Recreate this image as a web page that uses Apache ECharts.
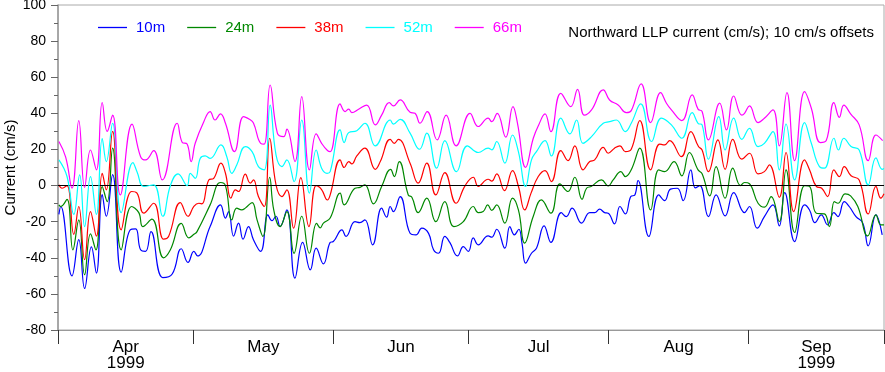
<!DOCTYPE html>
<html>
<head>
<meta charset="utf-8">
<script src="https://cdn.jsdelivr.net/npm/echarts@6/dist/echarts.min.js"></script>
<style>html,body{margin:0;padding:0;background:#fff}#c{width:885px;height:372px}</style>
</head>
<body>
<div id="c"></div>
<script>
// Days since 1999-04-01 ; value in cm/s (offsets already included as plotted)
const seriesNames = ['10m', '24m', '38m', '52m', '66m'];
const seriesColors = ['#0000ff', '#008800', '#ff0000', '#00ffff', '#ff00ff'];
const monthTickDays = [0, 30, 61, 91, 122, 153, 183];
const monthLabelDays = [15, 45.5, 76, 106.5, 137.5, 168];
const monthLabels = ['Apr\n1999', 'May', 'Jun', 'Jul', 'Aug', 'Sep\n1999'];
const titleText = 'Northward LLP current (cm/s); 10 cm/s offsets';

const s10m = [
[0.2,-16],[0.6,-11.6],[3.1,-50],[4.6,-30],[5.9,-57],[7.4,-34],[8.5,-48.5],[9.8,-5],[10.7,-17],[12.1,6],[14.0,-48],[16.0,-24.5],[17.2,-24],[18.3,-35.6],[19.4,-36.5],[20.6,-25.5],[23.2,-51],[25.3,-49],[27.3,-35],[28.8,-42.6],
[30.1,-36.5],[30.9,-39],[33.7,-22.7],[36.0,-10.7],[37.1,-18],[37.8,-14.4],[38.9,-28],[40.0,-20.8],[41.0,-29.7],[42.2,-22.7],[43.3,-30],[44.9,-36.5],[46.5,-16.2],[47.4,-19.5],[48.3,-17],[49.2,-22.7],[50.7,-13.5],[52.5,-51.3],[54.2,-31.5],[55.9,-46.7],[57.2,-34.7],[58.8,-43.4],
[60.3,-31.5],[61.0,-31],[62.9,-24.5],[63.8,-28.2],[65.8,-20],[66.9,-20.5],[68.0,-19],[69.7,-32.8],[71.7,-12.5],[72.8,-17.5],[73.6,-11.6],[74.3,-14.4],[75.8,-6.1],[78.0,-26.4],[79.3,-27.3],[80.6,-23.6],[82.1,-26.5],[83.2,-35.6],[84.3,-37.5],[85.7,-28.2],[86.8,-31.5],[88.5,-39],[89.8,-33.8],
[90.9,-36.5],[92.0,-29],[93.1,-32.8],[95.3,-27.9],[96.1,-28.6],[97.2,-24.2],[99.0,-34.7],[100.1,-22.7],[101.1,-27.3],[102.1,-24.2],[102.8,-32],[103.6,-43],[104.9,-37.5],[106.0,-34.7],[107.7,-22.3],[109.2,-31.5],[111.5,-15],[112.6,-17.2],[113.9,-12.5],[116.0,-20.8],[117.8,-15],[118.9,-15],[120.0,-13.1],
[121.1,-15],[121.9,-15.3],[123.3,-21.2],[124.5,-11.6],[125.7,-15.7],[126.9,-6.1],[127.8,-5.2],[128.5,2.8],[130.9,-28.2],[133.1,-5.2],[134.4,-8.3],[135.7,-2],[137.2,-1.5],[138.5,-8.3],[140.2,8.7],[141.2,-1.3],[142.2,0],[144.1,-17.2],[145.8,-5.2],[147.8,-16.8],[149.7,-3.9],
[152.1,-15],[153.2,-11.6],[154.9,-23.6],[156.5,-17.2],[158.4,-10.7],[159.8,-22.3],[161.0,-3.9],[163.2,-31],[165.4,-10.7],[166.5,-13.5],[167.7,-20.5],[169.1,-16.2],[170.5,-21.8],[171.9,-15],[172.8,-17.2],[174.2,-8.9],[175.3,-11.6],[176.8,-17.2],[178.3,-20.8],[179.5,-33.4],[181.2,-16.2],[182.6,-27.3]
];
const s24m = [
[0.2,-10.7],[0.6,-11.6],[2.0,-7.6],[3.3,-35.6],[4.6,-19],[5.9,-49.4],[7.2,-26.8],[8.4,-35.6],[9.8,-0.6],[10.9,-8.9],[12.1,20.7],[14.0,-35.6],[16.3,-11.6],[17.9,-15],[18.8,-22.7],[20.8,-18.6],[23.4,-40],[24.9,-35.6],[27.3,-21],[29.0,-29],
[30.1,-27],[30.8,-25.5],[33.7,-10.7],[36.0,1.7],[37.1,0],[38.5,-19],[39.6,-12.5],[40.7,-13.5],[41.5,-12.5],[43.0,-9.4],[44.1,-19],[45.4,-28.2],[46.9,4.6],[47.8,-13.5],[49.2,-22.7],[50.7,-14.4],[52.3,-37.5],[54.0,-17],[55.7,-37.5],[57.3,-21],[58.1,-23.4],[58.8,-20.8],
[60.3,-18],[62.5,-4.2],[63.4,-10.7],[65.8,-1.5],[66.9,-1],[68.0,0.4],[69.9,-10.1],[71.7,-0.5],[73.7,9],[74.5,5],[75.6,13.3],[77.6,-5.2],[78.4,-6.5],[79.8,-15],[81.7,-7],[83.7,-20],[85.7,-8.9],[87.7,-22.7],[89.8,-20],
[92.0,-11.6],[93.1,-15],[94.2,-14.4],[95.2,-10.7],[96.1,-13.8],[97.2,-10.7],[99.0,-20.8],[100.7,-7],[102.0,-13.5],[103.4,-31.9],[105.3,-17],[107.1,-7.9],[109.2,-15.3],[111.2,0.9],[113.0,-3.3],[114.5,4.6],[116.1,-7.6],[117.1,-1.5],[118.2,-0.4],[120.4,3.1],
[121.9,-0.2],[123.0,3.1],[124.7,7.7],[125.7,5],[127.0,8.7],[128.9,20.7],[131.3,-13.5],[133.1,8.7],[134.4,7.7],[136.5,13.3],[138.2,5.4],[139.9,18.3],[141.8,8.7],[142.7,6.5],[144.4,-5.7],[145.8,10.5],[147.8,-7],[149.5,9.6],[151.2,0],
[152.1,1.7],[153.2,1],[155.1,-9.8],[156.5,-12],[158.0,-6.1],[159.8,-19.9],[161.3,8.7],[163.2,-26],[165.4,0],[166.5,-0.4],[168.0,-15.3],[169.8,-15.7],[170.9,-22.7],[172.0,-8.9],[172.8,-9.8],[174.4,-4.6],[175.6,-5.7],[177.2,-11.6],[179.4,-27.9],[181.2,-16.2],[182.3,-21.8],[183,-21.8]
];
const s38m = [
[0.2,0.4],[0.9,-1.5],[2.0,0],[3.5,-27],[4.6,-11.6],[5.9,-41],[7.2,-14.4],[8.5,-28],[9.8,6.8],[10.7,-2.4],[12.1,30],[14.0,-24.5],[16.3,-3.3],[17.5,-4.2],[19.0,-15.3],[21.2,-9.8],[23.4,-29.7],[24.5,-28.2],[27.1,-9.4],[28.8,-17],
[30.1,-11.5],[31.2,-9.8],[31.9,-10.1],[33.4,3.1],[34.5,4],[36.1,12.4],[37.1,6.8],[38.3,-7],[39.3,-2.4],[40.0,-3.3],[41.5,6.3],[42.6,1.3],[43.3,3.1],[44.4,-6.1],[45.7,-11.6],[46.9,26.2],[48.3,0.4],[49.6,-6.1],[50.7,-2.4],[52.2,-23.6],[53.8,4.4],[55.6,-22.7],[57.2,0],[58.4,-2.2],[59.7,-8],
[60.3,-5.2],[62.5,14.2],[63.4,10],[64.4,13.3],[65.1,12],[66.2,16.4],[68.0,20.7],[70.3,9],[71.4,13.3],[73.6,25.6],[74.5,23.4],[75.4,25.6],[78.0,12.4],[79.8,1.3],[81.7,12.4],[83.7,-5.2],[85.7,7.2],[88.2,-9.8],[90.2,0],
[92.0,4.6],[93.1,-0.4],[95.3,3.5],[96.1,2.4],[97.2,6.5],[98.9,-2.8],[100.7,8.3],[102.0,-0.4],[103.4,-13.5],[104.8,-4.2],[106.4,5],[107.9,8.3],[109.3,2.2],[111.4,19.4],[113.0,13.8],[114.5,22],[116.3,8.7],[117.8,13.3],[118.9,14.2],[120.8,21.2],
[121.9,17.9],[123.3,20.7],[124.5,22],[125.7,18.8],[127.0,20.1],[128.9,36],[131.3,8.7],[133.3,23],[134.4,22.5],[135.5,24.9],[138.1,16],[140.2,29.9],[141.9,21.6],[142.7,19.7],[144.1,7.7],[146.2,25.3],[147.8,9],[149.5,25.6],[151.5,14.6],
[153.2,17.9],[155.1,6.5],[156.5,7.7],[157.6,11.4],[159.8,-6.5],[161.3,18.3],[163.0,-14.4],[165.4,14.2],[166.5,8.7],[168.0,-0.5],[169.2,-1.5],[170.5,-6.1],[171.9,8.7],[173.1,5],[174.2,10.5],[175.7,5.4],[177.5,3.1],[179.5,-15.7],[181.2,-0.5],[182.3,-7],[183,-4.6]
];
const s52m = [
[0.2,14.2],[2.0,5],[3.5,-16],[4.8,5.9],[5.9,-22.7],[7.2,5],[8.5,-16],[9.8,26],[10.7,13.3],[12.1,34.5],[14.0,-15],[16.6,12.7],[17.5,7.7],[19.0,-0.5],[21.2,0.4],[23.2,-17],[24.9,0],[26.6,6.5],[28.6,0],
[29.3,6.8],[30.4,4],[31.5,15],[32.6,16.4],[33.7,15],[36.1,22.5],[37.4,16],[38.5,6.8],[39.6,11.4],[41.5,21.6],[43.0,18.8],[44.4,10.5],[45.7,8.7],[47.0,44.6],[48.3,17],[49.6,10.5],[50.7,14.2],[52.3,2.2],[54.0,36.3],[55.7,-4.2],[57.2,19.7],[58.4,9.6],[59.6,6.8],
[60.3,7.7],[62.5,30.8],[63.4,23.8],[64.4,29.3],[66.2,30.4],[68.0,34.5],[70.3,22],[73.6,36.3],[74.3,34],[75.8,36.7],[78.0,29],[80.1,20.1],[81.7,29],[83.9,9.6],[85.7,24.9],[88.3,7.7],[90.7,22],
[93.1,18.3],[95.3,20.7],[96.1,19.8],[97.2,24.4],[99.0,12.4],[100.7,28],[102.0,18.8],[103.6,-0.5],[104.9,14.2],[106.0,18.8],[107.9,24.9],[109.3,16.4],[111.4,37.3],[113.4,28.6],[114.9,36.3],[116.3,23.4],[118.2,27.1],[120.8,34.5],
[122.2,35.4],[123.7,36.3],[125.7,29.9],[127.0,34.5],[129.1,45.2],[131.5,24.4],[133.7,37.3],[135.9,33.6],[138.2,26.2],[140.5,40.4],[141.8,34.5],[142.7,33.6],[144.1,14.6],[146.4,38.2],[147.8,19.7],[149.7,37.3],[151.5,25.6],
[153.2,31.7],[155.1,21.6],[156.5,23.4],[158.4,29.9],[159.8,8.7],[161.3,34.1],[163.2,3.1],[165.4,34.9],[166.9,23.4],[168.7,10.5],[169.8,9.6],[171.9,26.2],[172.9,19.7],[174.1,26.2],[175.7,21.6],[177.5,19.7],[179.5,0.4],[181.2,15.3],[182.6,9],[183,9.5]
];
const s66m = [
[0.2,24.4],[1.7,15.7],[3.1,-1.5],[4.6,36],[5.9,-1],[7.2,19.7],[8.5,8.7],[9.8,46],[10.9,30],[12.1,39],[13.8,-5.2],[16.4,34],[18.3,16],[19.4,14.2],[21.2,19.4],[23.1,3.1],[26.4,34.5],[27.5,24],[28.6,23],[29.5,13.3],
[30.4,23.4],[32.3,35.4],[33.7,41],[34.8,36.3],[36.0,39.7],[37.1,34.5],[39.1,18.8],[41.1,38.2],[42.4,36.7],[43.3,34.7],[44.9,23.4],[45.7,23],[47.0,55.7],[48.6,29],[50.0,27.1],[50.7,31.2],[52.5,13.3],[54.0,49.3],[55.7,8.7],[57.2,28.6],[58.4,23.4],[59.7,19.4],
[60.3,18.8],[62.5,45.2],[63.6,41],[64.4,42.3],[65.1,40.4],[66.6,42.3],[68.4,44.6],[70.3,33.6],[71.7,39],[73.4,45.9],[74.3,44.1],[75.8,47.4],[78.0,40.6],[79.1,40],[80.2,34.5],[81.8,41],[84.0,25.3],[86.0,39],[88.2,22],
[91.3,40],[93.1,32.7],[95.3,37.3],[96.1,35.4],[97.3,40],[99.2,26.8],[100.8,43.7],[101.8,34.5],[103.6,10.1],[105.3,26.2],[106.5,33.6],[107.9,39.7],[109.2,29.9],[111.4,51.1],[113.6,43.7],[115.1,53.3],[116.6,39],[118.2,41.9],[120.8,53],
[122.2,47.4],[124.1,44.6],[125.9,40.4],[127.0,41.5],[129.2,56.3],[131.3,34.9],[133.5,51.5],[134.8,45.6],[135.9,41.9],[138.2,36],[140.5,50.2],[141.8,42.3],[142.7,41],[144.1,25.3],[146.6,45.6],[148.1,30.8],[149.7,49.6],[151.5,39],
[152.1,40],[153.2,44.1],[155.1,34.9],[156.5,37.3],[158.4,41.9],[159.8,22],[161.5,51.5],[163.2,13.8],[165.4,52],[166.9,42.8],[168.9,23.8],[170.2,24.9],[171.9,45.9],[173.1,37.8],[174.1,44.6],[175.6,39.7],[177.5,33.6],[179.5,13.8],[181.2,28],[182.7,24.9]
];

const allData = [s10m, s24m, s38m, s52m, s66m];
const FONT = "'Liberation Sans', Arial, Helvetica, sans-serif";

const chart = echarts.init(document.getElementById('c'), null, {renderer: 'canvas'});
const series = seriesNames.map((name, i) => ({
  name: name,
  type: 'line',
  data: allData[i],
  symbol: 'none',
  smooth: 0.45,
  lineStyle: {color: seriesColors[i], width: 1.2},
  itemStyle: {color: seriesColors[i]},
  z: 2 + i,
  silent: true,
  animation: false
}));
series[series.length - 1].markLine = {
  silent: true,
  symbol: ['none', 'none'],
  label: {show: false},
  lineStyle: {color: '#000', width: 1.2, type: 'solid'},
  data: [{yAxis: 0}],
  animation: false
};

chart.setOption({
  animation: false,
  backgroundColor: '#fff',
  textStyle: {fontFamily: FONT},
  title: {
    text: titleText,
    right: 11, top: 25, padding: 0,
    textStyle: {fontSize: 15, fontWeight: 'normal', color: '#000', fontFamily: FONT}
  },
  legend: {
    left: 93, top: 15,
    icon: 'rect',
    itemWidth: 29, itemHeight: 1.3, itemGap: 22,
    data: seriesNames.map((n, i) => ({name: n, icon: 'rect', itemStyle: {color: seriesColors[i]}, textStyle: {color: seriesColors[i]}})),
    textStyle: {fontSize: 15, fontFamily: FONT, padding: [0, 0, 0, 4]}
  },
  grid: {
    left: 58, right: 1, top: 5, bottom: 42,
    containLabel: false, outerBoundsMode: 'none',
    show: true, borderColor: '#aaa', borderWidth: 1, backgroundColor: 'transparent'
  },
  xAxis: {
    type: 'value', min: 0, max: 183,
    axisLine: {show: true, onZero: false, lineStyle: {color: '#999', width: 1}},
    axisTick: {show: true, customValues: monthTickDays, length: 14, lineStyle: {color: '#333', width: 1}},
    axisLabel: {
      customValues: monthLabelDays,
      formatter: function (v) {
        for (let i = 0; i < monthLabelDays.length; i++) {
          if (Math.abs(monthLabelDays[i] - v) < 0.01) return monthLabels[i];
        }
        return '';
      },
      fontSize: 17, lineHeight: 16, color: '#000', margin: 9, fontFamily: FONT
    },
    splitLine: {show: false}
  },
  yAxis: {
    type: 'value', min: -80, max: 100, interval: 20,
    name: 'Current (cm/s)', nameLocation: 'middle', nameGap: 40, nameMoveOverlap: false,
    nameTextStyle: {fontSize: 15, color: '#000', fontFamily: FONT},
    axisLine: {show: true, onZero: false, lineStyle: {color: '#999', width: 1.5}},
    axisTick: {show: true, length: 7, lineStyle: {color: '#666'}},
    minorTick: {show: true, splitNumber: 2, length: 4, lineStyle: {color: '#666'}},
    splitLine: {show: false},
    axisLabel: {fontSize: 14, color: '#000', margin: 12, fontFamily: FONT}
  },
  series: series
});
</script>
</body>
</html>
